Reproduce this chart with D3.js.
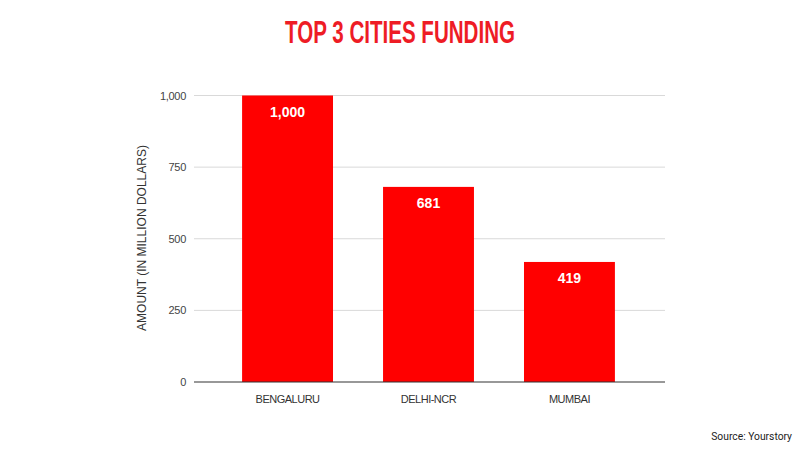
<!DOCTYPE html>
<html><head><meta charset="utf-8">
<script src="https://cdn.jsdelivr.net/npm/d3@7"></script>
<style>body{margin:0;background:#fff}svg{display:block}</style>
</head><body>
<svg id="c" width="800" height="450"></svg>
<script>
const categories = ["BENGALURU", "DELHI-NCR", "MUMBAI"];
const values = [1000, 681, 419];
const yTicks = [0, 250, 500, 750, 1000];

const FONT = "'Liberation Sans', Arial, sans-serif";
const svg = d3.select("#c");
const x = d3.scaleBand().domain(categories).range([217, 640]).paddingInner(0.355).paddingOuter(0.178);
const y = d3.scaleLinear().domain([0, 1000]).range([382, 95.5]);

svg.append("text").attr("x", 400).attr("y", 43).attr("text-anchor", "middle")
  .attr("font-family", FONT).attr("font-weight", "bold").attr("font-size", 32).attr("fill", "#ee1c25")
  .attr("textLength", 230).attr("lengthAdjust", "spacingAndGlyphs")
  .text("TOP 3 CITIES FUNDING");

const grid = svg.append("g");
grid.selectAll("line").data(yTicks.filter(d => d > 0)).join("line")
  .attr("x1", 194).attr("x2", 665).attr("y1", d => y(d)).attr("y2", d => y(d))
  .attr("stroke", "#d9d9d9").attr("stroke-width", 1);

const yAxis = d3.axisLeft(y).tickValues(yTicks).tickSize(0).tickPadding(8).tickFormat(d3.format(","));
const ga = svg.append("g").attr("transform", "translate(194,0)").call(yAxis);
ga.select(".domain").remove();
ga.selectAll("text").attr("font-family", FONT).attr("font-size", 11).attr("letter-spacing", -0.3).attr("fill", "#444");

svg.selectAll("rect.bar").data(values).join("rect").attr("class", "bar")
  .attr("x", (d, i) => x(categories[i])).attr("width", x.bandwidth())
  .attr("y", d => y(d)).attr("height", d => y(0) - y(d)).attr("fill", "#ff0000");

svg.selectAll("text.val").data(values).join("text").attr("class", "val")
  .attr("x", (d, i) => x(categories[i]) + x.bandwidth() / 2).attr("y", d => y(d) + 21)
  .attr("text-anchor", "middle").attr("font-family", FONT)
  .attr("font-weight", "bold").attr("font-size", 14).attr("fill", "#fff")
  .text(d => d3.format(",")(d));

svg.append("line").attr("x1", 194).attr("x2", 665).attr("y1", y(0)).attr("y2", y(0))
  .attr("stroke", "#333").attr("stroke-width", 1.2);

const xAxis = d3.axisBottom(x).tickSize(0).tickPadding(13);
const gx = svg.append("g").attr("transform", `translate(0,${y(0)})`).call(xAxis);
gx.select(".domain").remove();
gx.selectAll("text").attr("font-family", FONT).attr("font-size", 11).attr("letter-spacing", -0.5).attr("fill", "#333");

svg.append("text").attr("transform", "translate(146,238) rotate(-90)").attr("text-anchor", "middle")
  .attr("font-family", FONT).attr("font-size", 12).attr("fill", "#333")
  .text("AMOUNT (IN MILLION DOLLARS)");

svg.append("text").attr("x", 792).attr("y", 440).attr("text-anchor", "end")
  .attr("font-family", "Roboto, Arial, sans-serif").attr("font-size", 10.3).attr("fill", "#222")
  .text("Source: Yourstory");
</script>
</body></html>
